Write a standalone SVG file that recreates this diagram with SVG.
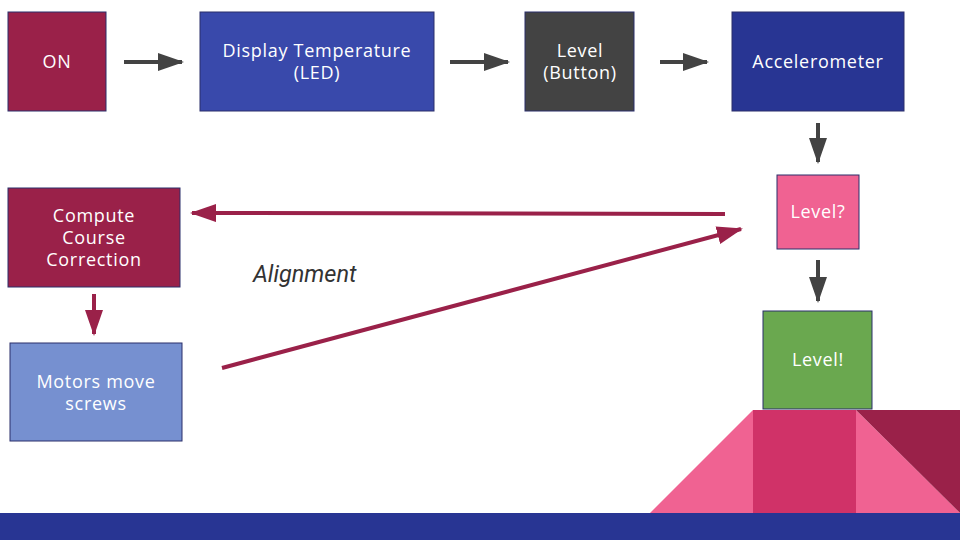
<svg xmlns="http://www.w3.org/2000/svg" width="960" height="540" viewBox="0 0 960 540">
<style>
.box{stroke:#2b2f6b;stroke-width:1}
.t{font-family:"Open Sans","Lato",sans-serif;font-size:18px;letter-spacing:0.7px;fill:#ffffff;text-anchor:middle}
.g{stroke:#434343;stroke-width:4;fill:none}
.m{stroke:#9a2149;stroke-width:4;fill:none}
</style>
<defs>
<marker id="ag" markerUnits="userSpaceOnUse" markerWidth="26" markerHeight="18" refX="24" refY="9" orient="auto"><path d="M0,0L26,9L0,18Z" fill="#434343"/></marker>
<marker id="am" markerUnits="userSpaceOnUse" markerWidth="26" markerHeight="18" refX="24" refY="9" orient="auto"><path d="M0,0L26,9L0,18Z" fill="#9a2149"/></marker>
</defs>
<rect width="960" height="540" fill="#ffffff"/>
<g id="base">
<polygon points="650,513 753,410 753,513" fill="#f06292"/>
<rect x="753" y="410" width="103" height="103" fill="#d03268"/>
<polygon points="856,410 960,513 856,513" fill="#f06292"/>
<polygon points="856,410 960,410 960,513" fill="#9a2149"/>
<rect x="0" y="513" width="960" height="27" fill="#283593"/>
</g>
<g id="connectors">
<line class="g" x1="124" y1="62" x2="182" y2="62" marker-end="url(#ag)"/>
<line class="g" x1="450" y1="62" x2="508" y2="62" marker-end="url(#ag)"/>
<line class="g" x1="660" y1="62" x2="707" y2="62" marker-end="url(#ag)"/>
<line class="g" x1="818" y1="123" x2="818" y2="162" marker-end="url(#ag)"/>
<line class="g" x1="818" y1="260" x2="818" y2="301" marker-end="url(#ag)"/>
<line class="m" x1="725" y1="214" x2="192" y2="213" marker-end="url(#am)"/>
<line class="m" x1="94" y1="294" x2="94" y2="334" marker-end="url(#am)"/>
<line class="m" x1="222" y1="368" x2="741" y2="229" marker-end="url(#am)"/>
</g>
<g id="label-alignment"><text x="253" y="282" font-family="Roboto,sans-serif" font-style="italic" font-size="23.5" fill="#333333">Alignment</text></g>
<g id="on"><rect class="box" x="8" y="12" width="98" height="99" fill="#9a2149"/><text class="t" x="57" y="68">ON</text></g>
<g id="display"><rect class="box" x="200" y="12" width="234" height="99" fill="#3949ab"/><text class="t" x="317" y="57">Display Temperature</text><text class="t" x="317" y="79">(LED)</text></g>
<g id="button"><rect class="box" x="525" y="12" width="109" height="99" fill="#434343"/><text class="t" x="580" y="57">Level</text><text class="t" x="580" y="79">(Button)</text></g>
<g id="accel"><rect class="box" x="732" y="12" width="172" height="99" fill="#283593"/><text class="t" x="818" y="68">Accelerometer</text></g>
<g id="levelq"><rect class="box" x="777" y="175" width="82" height="74" fill="#f06292"/><text class="t" x="818" y="218">Level?</text></g>
<g id="levelok"><rect class="box" x="763" y="311" width="109" height="98" fill="#6aa84f"/><text class="t" x="818" y="366">Level!</text></g>
<g id="compute"><rect class="box" x="8" y="188" width="172" height="99" fill="#9a2149"/><text class="t" x="94" y="222">Compute</text><text class="t" x="94" y="244">Course</text><text class="t" x="94" y="266">Correction</text></g>
<g id="motors"><rect class="box" x="10" y="343" width="172" height="98" fill="#7690d0"/><text class="t" x="96" y="388">Motors move</text><text class="t" x="96" y="410">screws</text></g>
</svg>
